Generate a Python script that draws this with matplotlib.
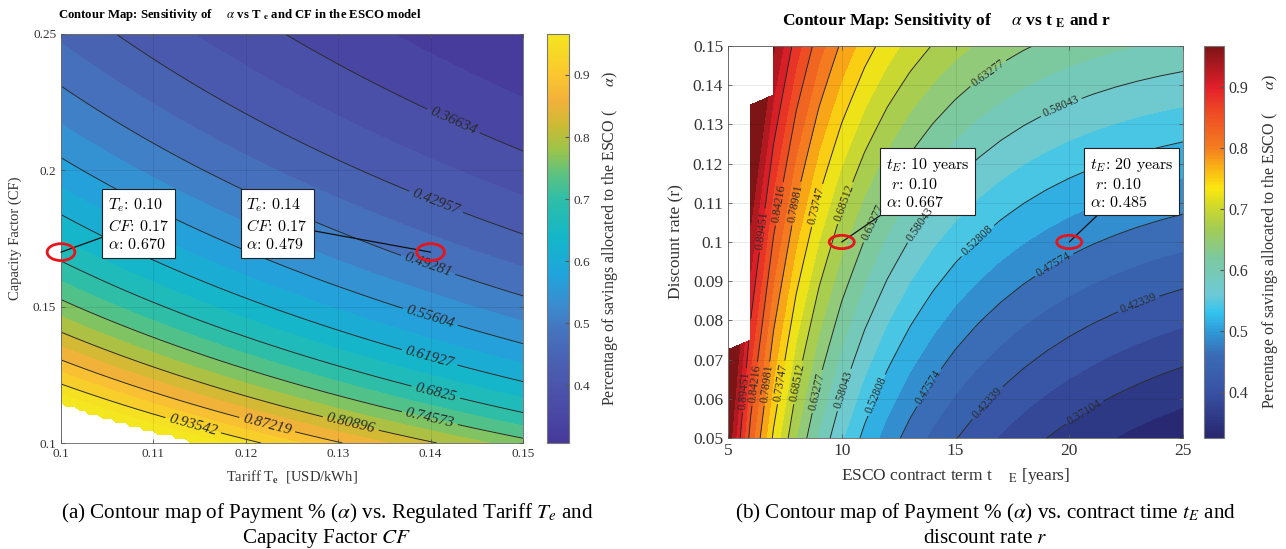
import numpy as np
import matplotlib
matplotlib.use('Agg')
import matplotlib.pyplot as plt
from matplotlib.colors import LinearSegmentedColormap, Normalize
from matplotlib.cm import ScalarMappable
from matplotlib.patches import Ellipse

plt.rcParams['font.family'] = ['Liberation Serif', 'DejaVu Serif']
plt.rcParams['mathtext.fontset'] = 'stix'

# ---- panel (a): alpha vs tariff Te and capacity factor CF
tariff = np.linspace(0.10, 0.15, 101)       # USD/kWh
cap_factor = np.linspace(0.10, 0.25, 101)
alpha_te_cf = 0.01138                        # alpha * Te * CF (from the data tips)
levels_a = [0.36634, 0.42957, 0.49281, 0.55604, 0.61927,
            0.6825, 0.74573, 0.80896, 0.87219, 0.93542]
tips_a_te = [0.10, 0.14]
tips_a_cf = [0.17, 0.17]
tips_a_alpha = [0.670, 0.479]

# ---- panel (b): alpha vs contract term tE and discount rate r
term = np.arange(5, 26)                      # years
rate = np.linspace(0.05, 0.15, 41)
alpha_pv = 4.045                             # alpha * annuity factor
rate_scale, rate_shift = 0.8, 0.023          # effective rate in the annuity
alpha_cap_b = 1.02                           # blank where the share runs off the scale
levels_b = [0.37104, 0.42339, 0.47574, 0.52808, 0.58043, 0.63277,
            0.68512, 0.73747, 0.78981, 0.84216, 0.89451]
tips_b_te = [10, 20]
tips_b_r = [0.10, 0.10]
tips_b_alpha = [0.667, 0.485]

# colour scales (value, colour)
cbar_a = (0.307, 0.966)
cbar_b = (0.325, 0.968)
stops_a = [(0.307, '#46399a'), (0.36, '#4a4aa5'), (0.43, '#4a5eb0'), (0.49, '#4575bf'),
           (0.53, '#3a8dd0'), (0.58, '#1fa5dc'), (0.64, '#14b7c8'), (0.70, '#2ebea8'),
           (0.74, '#5cc281'), (0.78, '#9dc44a'), (0.82, '#cdbb33'), (0.86, '#f3b13b'),
           (0.90, '#fac62f'), (0.966, '#f4e61f')]
stops_b = [(0.325, '#27266e'), (0.40, '#3852a3'), (0.46, '#3a6cb5'), (0.50, '#2f9bd8'),
           (0.53, '#33c3ee'), (0.56, '#6dcad6'), (0.62, '#7cc9a0'), (0.67, '#a5cc52'),
           (0.71, '#d6dc25'), (0.735, '#fbe710'), (0.77, '#f9b116'), (0.80, '#f47f20'),
           (0.86, '#ee4a24'), (0.90, '#e3202a'), (0.968, '#7d1416')]


def make_cmap(name, stops, lims):
    lo, hi = lims
    pos = [(v - lo) / (hi - lo) for v, _ in stops]
    return LinearSegmentedColormap.from_list(name, list(zip(pos, [c for _, c in stops])))


def half_levels(levels):
    step = (levels[-1] - levels[0]) / (len(levels) - 1)
    return np.linspace(levels[0] - step, levels[-1] + step, 2 * len(levels) + 3)


W, H = 1286, 549
fig = plt.figure(figsize=(W / 100, H / 100), dpi=100)


def px_axes(x0, y0, x1, y1):
    return fig.add_axes([x0 / W, 1 - y1 / H, (x1 - x0) / W, (y1 - y0) / H])


def style_axes(ax, size):
    ax.tick_params(direction='in', length=3, width=0.6, labelsize=size,
                   colors='#555555', labelcolor='#333333', top=True, right=True)
    for s in ax.spines.values():
        s.set_color('#777777')
        s.set_linewidth(0.7)
    ax.set_axisbelow(False)
    ax.grid(True, color='black', alpha=0.1, lw=0.6)


def labelled_contours(ax, X, Y, Z, levels, positions, size, spacing, style='normal'):
    for lev in levels:
        cs = ax.contour(X, Y, Z, levels=[lev], colors='#2a2a2a', linewidths=0.7)
        texts = ax.clabel(cs, manual=positions[lev], inline=True, fontsize=size,
                          fmt=lambda v: f'{v:.5g}', colors='#2a2a2a', inline_spacing=spacing)
        for t in texts:
            t.set_fontstyle(style)


# ================= panel (a)
TE, CF = np.meshgrid(tariff, cap_factor)
A = np.ma.masked_greater(alpha_te_cf / (TE * CF), 1.0)
cmap_a = make_cmap('parula_like', stops_a, cbar_a)
norm_a = Normalize(*cbar_a)

ax1 = px_axes(61, 34, 523, 443)
ax1.contourf(TE, CF, A, levels=half_levels(levels_a), cmap=cmap_a, norm=norm_a, extend='both')
lab_a = {0.36634: [(0.1425, 0.2184)], 0.42957: [(0.1406, 0.1884)],
         0.49281: [(0.1399, 0.167)], 0.55604: [(0.1399, 0.1456)],
         0.61927: [(0.1399, 0.1315)], 0.6825: [(0.1406, 0.1191)],
         0.74573: [(0.1399, 0.1089)], 0.80896: [(0.1314, 0.1077)],
         0.87219: [(0.1223, 0.1065)], 0.93542: [(0.1143, 0.1065)]}
labelled_contours(ax1, TE, CF, A, levels_a, lab_a, 11, 4, style='italic')
ax1.set_xlim(0.10, 0.15)
ax1.set_ylim(0.10, 0.25)
ax1.set_xticks([0.10, 0.11, 0.12, 0.13, 0.14, 0.15])
ax1.set_xticklabels(['0.1', '0.11', '0.12', '0.13', '0.14', '0.15'])
ax1.set_yticks([0.10, 0.15, 0.20, 0.25])
ax1.set_yticklabels(['0.1', '0.15', '0.2', '0.25'])
style_axes(ax1, 9.5)
ax1.set_xlabel('Tariff T${}_{\\mathbf{e}}$  [USD/kWh]', fontsize=10.5, color='#333333', labelpad=6)
ax1.set_ylabel('Capacity Factor (CF)', fontsize=10.5, color='#333333', labelpad=8)

box_a = [(0.168, 0.535), (0.468, 0.535)]
for te, cf, al, bxy in zip(tips_a_te, tips_a_cf, tips_a_alpha, box_a):
    ax1.annotate(f'$T_e$: {te:.2f}\n$CF$: {cf:.2f}\n$\\alpha$: {al:.3f}',
                 xy=(te, cf), xytext=bxy, textcoords='axes fraction',
                 ha='center', va='center', multialignment='left', fontsize=11.5,
                 family='cmr10', math_fontfamily='cm', linespacing=1.3,
                 bbox=dict(boxstyle='square,pad=0.35', fc='white', ec='#222222', lw=0.8),
                 arrowprops=dict(arrowstyle='-', color='#111111', lw=0.9,
                                 shrinkA=0, shrinkB=0))
    ax1.add_patch(Ellipse((te, cf), 0.0030, 0.0062, fill=False, ec='#e8141b', lw=2,
                          clip_on=False, zorder=5))

cax1 = px_axes(547, 34, 569, 443)
cb1 = fig.colorbar(ScalarMappable(norm=norm_a, cmap=cmap_a), cax=cax1)
cb1.set_ticks([0.4, 0.5, 0.6, 0.7, 0.8, 0.9])
cb1.ax.tick_params(direction='in', length=3, labelsize=9.5, colors='#555555', labelcolor='#333333')
cb1.outline.set_edgecolor('#777777')
cb1.set_label('Percentage of savings allocated to the ESCO (      $\\alpha$)',
              fontsize=11.5, color='#333333', labelpad=7)

fig.text(58 / W, 1 - 18 / H, 'Contour Map: Sensitivity of     $\\alpha$ vs T ${}_{\\mathbf{e}}$'
         ' and CF in the ESCO model', fontsize=9.2, weight='bold', ha='left', va='baseline')

# ================= panel (b)
TT, RR = np.meshgrid(term, rate)
q = rate_shift + rate_scale * RR
B = np.ma.masked_greater(alpha_pv * q / (1 - (1 + q) ** (-TT)), alpha_cap_b)
cmap_b = make_cmap('jet_like', stops_b, cbar_b)
norm_b = Normalize(*cbar_b)

ax2 = px_axes(728, 46, 1183, 438)
ax2.contourf(TT, RR, B, levels=half_levels(levels_b), cmap=cmap_b, norm=norm_b, extend='both')
lab_b = {0.37104: [(20.6, 0.057)],
         0.42339: [(16.4, 0.059), (23.0, 0.085)],
         0.47574: [(13.8, 0.063), (19.45, 0.093)],
         0.52808: [(11.5, 0.061), (16.1, 0.0996)],
         0.58043: [(10.07, 0.0623), (13.4, 0.1047), (19.87, 0.1315)],
         0.63277: [(8.83, 0.062), (11.15, 0.1056), (16.8, 0.14)],
         0.68512: [(7.93, 0.0644), (10.2, 0.1098)],
         0.73747: [(7.13, 0.0644), (8.88, 0.1094)],
         0.78981: [(6.47, 0.064), (8.0, 0.1098)],
         0.84216: [(5.95, 0.064), (7.19, 0.1098)],
         0.89451: [(5.48, 0.0623), (6.39, 0.103)]}
labelled_contours(ax2, TT, RR, B, levels_b, lab_b, 8.5, 3)
ax2.set_xlim(5, 25)
ax2.set_ylim(0.05, 0.15)
ax2.set_xticks([5, 10, 15, 20, 25])
ax2.set_yticks(np.round(np.arange(0.05, 0.151, 0.01), 2))
ax2.set_yticklabels(['0.05', '0.06', '0.07', '0.08', '0.09', '0.1',
                     '0.11', '0.12', '0.13', '0.14', '0.15'])
style_axes(ax2, 12.5)
ax2.set_xlabel('ESCO contract term t    ${}_{\\mathrm{E}}$ [years]', fontsize=12.5,
               color='#333333', labelpad=5)
ax2.set_ylabel('Discount rate (r)', fontsize=12.5, color='#333333', labelpad=6)

box_b = [(0.439, 0.651), (0.887, 0.651)]
for te, r, al, bxy in zip(tips_b_te, tips_b_r, tips_b_alpha, box_b):
    ax2.annotate(f'$t_E$: {te:d} years\n $r$: {r:.2f}\n$\\alpha$: {al:.3f}',
                 xy=(te, r), xytext=bxy, textcoords='axes fraction',
                 ha='center', va='center', multialignment='left', fontsize=11.5,
                 family='cmr10', math_fontfamily='cm', linespacing=1.25,
                 bbox=dict(boxstyle='square,pad=0.35', fc='white', ec='#222222', lw=0.8),
                 arrowprops=dict(arrowstyle='-', color='#111111', lw=0.9,
                                 shrinkA=0, shrinkB=0))
    ax2.add_patch(Ellipse((te, r), 1.1, 0.0034, fill=False, ec='#e8141b', lw=2, zorder=5))

cax2 = px_axes(1204, 46, 1224, 438)
cb2 = fig.colorbar(ScalarMappable(norm=norm_b, cmap=cmap_b), cax=cax2)
cb2.set_ticks([0.4, 0.5, 0.6, 0.7, 0.8, 0.9])
cb2.ax.tick_params(direction='in', length=3, labelsize=11.5, colors='#555555', labelcolor='#333333')
cb2.outline.set_edgecolor('#777777')
cb2.set_label('Percentage of savings allocated to the ESCO (      $\\alpha$)',
              fontsize=11.5, color='#333333', labelpad=8)

fig.text(946 / W, 1 - 25 / H, 'Contour Map: Sensitivity of     $\\alpha$ vs t ${}_{\\mathbf{E}}$ and r',
         fontsize=12.5, weight='bold', ha='center', va='baseline')

# captions
fig.text(327 / W, 1 - 518 / H, '(a) Contour map of Payment % ($\\alpha$) vs. Regulated Tariff $T_e$ and',
         fontsize=15.2, ha='center', va='baseline')
fig.text(327 / W, 1 - 543 / H, 'Capacity Factor $CF$', fontsize=15.2, ha='center', va='baseline')
fig.text(985 / W, 1 - 518 / H, '(b) Contour map of Payment % ($\\alpha$) vs. contract time $t_E$ and',
         fontsize=15.2, ha='center', va='baseline')
fig.text(985 / W, 1 - 543 / H, 'discount rate $r$', fontsize=15.2, ha='center', va='baseline')

fig.savefig('out.png', dpi=100)
